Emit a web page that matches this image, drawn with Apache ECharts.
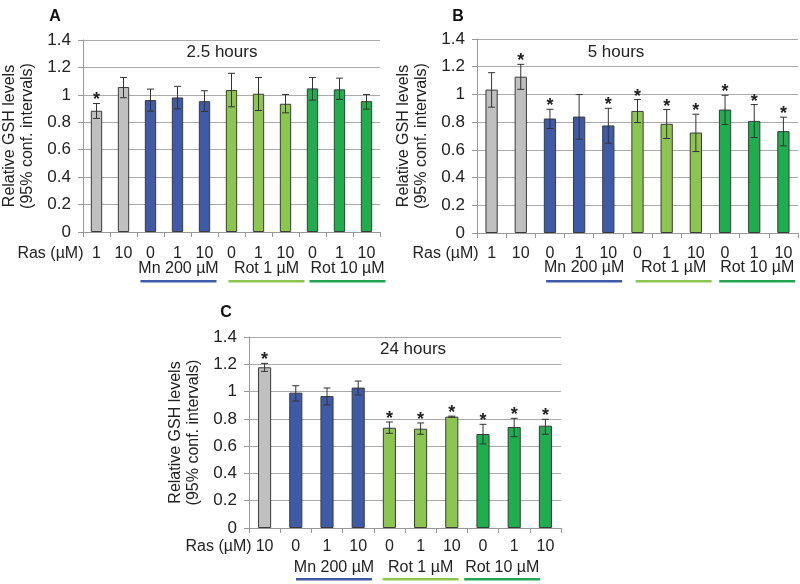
<!DOCTYPE html>
<html><head><meta charset="utf-8">
<script src="https://cdn.jsdelivr.net/npm/echarts@6/dist/echarts.min.js"></script>
<style>html,body{margin:0;padding:0;background:#fff}#c{width:800px;height:584px}</style>
</head><body><div id="c"></div>
<script>
// ---- data ----
const catsAB = ['1','10','0','1','10','0','1','10','0','1','10'];
const catsC  = ['10','0','1','10','0','1','10','0','1','10'];
const groupNames = ['Mn 200 µM','Rot 1 µM','Rot 10 µM'];
const groupStartAB = [2,5,8];
const groupStartC  = [1,4,7];
const titles = ['2.5 hours','5 hours','24 hours'];
const letters = ['A','B','C'];

const valsA = [0.884,1.057,0.962,0.981,0.954,1.035,1.008,0.935,1.047,1.040,0.954];
const lowA  = [0.828,0.979,0.881,0.898,0.879,0.913,0.886,0.869,0.962,0.967,0.896];
const highA = [0.937,1.127,1.042,1.062,1.030,1.157,1.127,1.003,1.127,1.122,1.003];
const starA = [1,0,0,0,0,0,0,0,0,0,0];

const valsB = [1.035,1.128,0.826,0.840,0.776,0.881,0.788,0.725,0.891,0.809,0.735];
const lowB  = [0.908,1.037,0.754,0.677,0.648,0.797,0.682,0.588,0.783,0.689,0.629];
const highB = [1.157,1.217,0.893,0.999,0.900,0.963,0.891,0.857,0.994,0.927,0.836];
const starB = [0,1,1,0,1,1,1,1,1,1,1];

const valsC = [1.178,0.992,0.967,1.029,0.735,0.728,0.816,0.689,0.740,0.750];
const lowC  = [1.148,0.931,0.902,0.975,0.694,0.687,0.812,0.616,0.669,0.687];
const highC = [1.207,1.043,1.026,1.077,0.777,0.770,0.820,0.760,0.804,0.797];
const starC = [1,0,0,0,1,1,1,1,1,1];

// ---- styles ----
const FONT = '"Liberation Sans", Arial, sans-serif';
const ctrlColor = '#c0c0c0';
const groupColors = ['#3f5ba8','#8cc550','#1eae4e'];
const lineColors = ['#3f5ba8','#8cc550','#22a654'];

const panels = [
  {cats:catsAB, vals:valsA, low:lowA, high:highA, star:starA, gs:groupStartAB,
   grid:{left:81, top:40, width:299, height:192}, title:{x:222,y:52}, letter:{x:55,y:17},
   lab:{margin:14, ras:22, grp:37, line:48, shift:[1,8,8]}},
  {cats:catsAB, vals:valsB, low:lowB, high:highB, star:starB, gs:groupStartAB,
   grid:{left:477, top:39, width:321, height:194}, title:{x:616,y:52}, letter:{x:458,y:17},
   lab:{margin:13, ras:21, grp:35, line:47, shift:[5,7,3]}},
  {cats:catsC, vals:valsC, low:lowC, high:highC, star:starC, gs:groupStartC,
   grid:{left:249, top:337, width:312, height:191}, title:{x:413,y:349}, letter:{x:226,y:313},
   lab:{margin:11, ras:19, grp:40, line:50, shift:[7,0,-12]}}
];

function colorFor(p, i){
  for (let g=0; g<3; g++){ if (i>=p.gs[g] && i<p.gs[g]+3) return groupColors[g]; }
  return ctrlColor;
}

const chart = echarts.init(document.getElementById('c'), null, {renderer:'canvas'});
const option = {
  animation:false,
  backgroundColor:'#fff',
  grid: panels.map(p=>Object.assign({containLabel:false}, p.grid)),
  xAxis: panels.map((p,k)=>({
    type:'category', gridIndex:k, data:p.cats,
    axisLine:{lineStyle:{color:'#999', width:1}},
    axisTick:{show:true, length:5, lineStyle:{color:'#999'}},
    axisLabel:{color:'#222', fontSize:16, fontFamily:FONT, margin:p.lab.margin, interval:0}
  })),
  yAxis: panels.map((p,k)=>({
    type:'value', gridIndex:k, min:0, max:1.4, interval:0.2,
    name:'Relative GSH levels\n(95% conf. intervals)', nameLocation:'middle', nameRotate:90, nameGap:46,
    nameTextStyle:{color:'#222', fontSize:16, fontFamily:FONT, lineHeight:18},
    axisLine:{show:true, lineStyle:{color:'#999'}},
    axisTick:{show:true, length:5, lineStyle:{color:'#999'}},
    splitLine:{show:true, lineStyle:{color:'#aaa', width:1}},
    axisLabel:{color:'#222', fontSize:17, fontFamily:FONT, margin:12,
      formatter:v=>String(+v.toFixed(1))}
  })),
  series: []
};
panels.forEach((p,k)=>{
  option.series.push({
    type:'bar', xAxisIndex:k, yAxisIndex:k, barWidth:'42%',
    data:p.vals.map((v,i)=>({value:v, itemStyle:{color:colorFor(p,i), borderColor:'#3a3a3a', borderWidth:1}})),
    z:2
  });
  option.series.push({
    type:'custom', xAxisIndex:k, yAxisIndex:k, z:5,
    data:p.vals.map((v,i)=>[i, p.low[i], p.high[i], p.star[i]]),
    encode:{x:0, y:[1,2]},
    renderItem:function(params, api){
      const x = api.value(0);
      const lo = api.coord([x, api.value(1)]);
      const hi = api.coord([x, api.value(2)]);
      const w = 3.5;
      const st = {stroke:'#333', lineWidth:1};
      const children = [
        {type:'line', shape:{x1:lo[0], y1:lo[1], x2:hi[0], y2:hi[1]}, style:st},
        {type:'line', shape:{x1:lo[0]-w, y1:lo[1], x2:lo[0]+w, y2:lo[1]}, style:st},
        {type:'line', shape:{x1:hi[0]-w, y1:hi[1], x2:hi[0]+w, y2:hi[1]}, style:st}
      ];
      if (api.value(3)) {
        children.push({type:'text', style:{text:'*', x:hi[0], y:hi[1]+6, textAlign:'center', textVerticalAlign:'bottom',
          fill:'#222', font:'bold 18px '+FONT}});
      }
      return {type:'group', children:children};
    }
  });
});
chart.setOption(option);

// ---- annotations positioned through the axes ----
const graphics = [];
panels.forEach((p,k)=>{
  const c0 = chart.convertToPixel({xAxisIndex:k}, 0);
  const axisY = p.grid.top + p.grid.height;
  graphics.push({type:'text', x: c0 - 13, y: axisY + p.lab.ras,
    style:{text:'Ras (µM)', textAlign:'right', textVerticalAlign:'middle', fill:'#222', font:'16px '+FONT}});
  p.gs.forEach((s,g)=>{
    const a = chart.convertToPixel({xAxisIndex:k}, s);
    const b = chart.convertToPixel({xAxisIndex:k}, s+2);
    const cx = (a+b)/2 + p.lab.shift[g];
    graphics.push({type:'text', x:cx, y:axisY + p.lab.grp,
      style:{text:groupNames[g], textAlign:'center', textVerticalAlign:'middle', fill:'#222', font:'16px '+FONT}});
    graphics.push({type:'rect', shape:{x:cx-38, y:axisY + p.lab.line, width:76, height:2.5},
      style:{fill:lineColors[g]}});
  });
  graphics.push({type:'text', x:p.title.x, y:p.title.y,
    style:{text:titles[k], textAlign:'center', textVerticalAlign:'middle', fill:'#222', font:'17px '+FONT}});
  graphics.push({type:'text', x:p.letter.x, y:p.letter.y,
    style:{text:letters[k], textAlign:'center', textVerticalAlign:'middle', fill:'#111', font:'bold 16px '+FONT}});
});
chart.setOption({graphic:graphics});
</script>
</body></html>
